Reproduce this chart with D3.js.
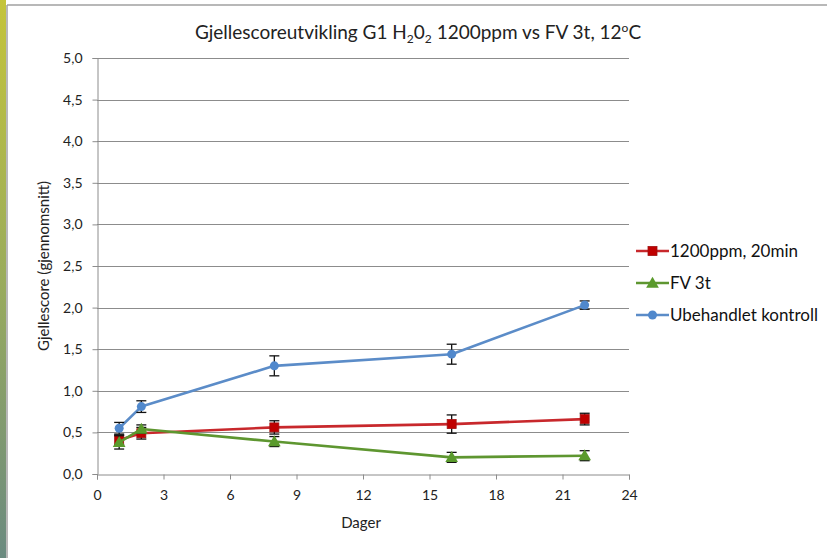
<!DOCTYPE html>
<html>
<head>
<meta charset="utf-8">
<script src="https://cdn.jsdelivr.net/npm/d3@7"></script>
<style>
  html, body { margin: 0; padding: 0; background: #fff; }
  svg { display: block; font-family: Lato, "Open Sans", sans-serif; }
</style>
</head>
<body>
<script>
// Gill score development chart (line + error bars)

const days = [1, 2, 8, 16, 22];
const seriesNames = ["1200ppm, 20min", "FV 3t", "Ubehandlet kontroll"];
const redValues = [0.41, 0.49, 0.56, 0.60, 0.66];
const redErrors = [0.06, 0.07, 0.08, 0.11, 0.07];
const greenValues = [0.38, 0.54, 0.39, 0.20, 0.22];
const greenErrors = [0.08, 0.05, 0.06, 0.06, 0.06];
const blueValues = [0.55, 0.81, 1.30, 1.44, 2.03];
const blueErrors = [0.07, 0.07, 0.12, 0.12, 0.05];
const yTicks = [0, 0.5, 1, 1.5, 2, 2.5, 3, 3.5, 4, 4.5, 5];
const xTicks = [0, 3, 6, 9, 12, 15, 18, 21, 24];

const width = 827;
const height = 558;

const x = d3.scaleLinear().domain([0, 24]).range([97, 629]);
const y = d3.scaleLinear().domain([0, 5]).range([474, 58]);

const series = [
  { name: seriesNames[0], values: redValues, errors: redErrors, line: "#c8282c", fill: "#c00000", shape: "square" },
  { name: seriesNames[1], values: greenValues, errors: greenErrors, line: "#5e9630", fill: "#5a9a2c", shape: "triangle" },
  { name: seriesNames[2], values: blueValues, errors: blueErrors, line: "#5b8cc8", fill: "#5088cc", shape: "circle" }
];

const svg = d3.select("body").append("svg")
  .attr("width", width)
  .attr("height", height);

// slide frame on the left
const grad = svg.append("defs").append("linearGradient")
  .attr("id", "strip").attr("x1", 0).attr("y1", 0).attr("x2", 0).attr("y2", 1);
grad.append("stop").attr("offset", "0%").attr("stop-color", "#c4c43a");
grad.append("stop").attr("offset", "50%").attr("stop-color", "#9aac5c");
grad.append("stop").attr("offset", "100%").attr("stop-color", "#6a8a80");
svg.append("rect").attr("x", 0).attr("y", 0).attr("width", 6).attr("height", height).attr("fill", "url(#strip)");
svg.append("line").attr("x1", 7).attr("x2", 7).attr("y1", 5).attr("y2", height).attr("stroke", "#a0a0a0").attr("stroke-width", 1.5);
svg.append("line").attr("x1", 7).attr("x2", width).attr("y1", 5).attr("y2", 5).attr("stroke", "#a0a0a0").attr("stroke-width", 1.5);

// title
const title = svg.append("text")
  .attr("x", 418).attr("y", 39)
  .attr("text-anchor", "middle")
  .style("font-size", "19px")
  .style("fill", "#222");
title.append("tspan").text("Gjellescoreutvikling G1 H");
title.append("tspan").attr("dy", 4).style("font-size", "12px").text("2");
title.append("tspan").attr("dy", -4).text("0");
title.append("tspan").attr("dy", 4).style("font-size", "12px").text("2");
title.append("tspan").attr("dy", -4).text(" 1200ppm vs FV 3t, 12");
title.append("tspan").attr("dy", -7).style("font-size", "12px").text("o");
title.append("tspan").attr("dy", 7).text("C");

// grid
svg.append("g").selectAll("line").data(yTicks.filter((d) => d > 0)).join("line")
  .attr("x1", x(0)).attr("x2", x(24))
  .attr("y1", (d) => Math.round(y(d)) + 0.5).attr("y2", (d) => Math.round(y(d)) + 0.5)
  .attr("stroke", "#8c8c8c").attr("stroke-width", 1);

// y axis
const yAxis = svg.append("g")
  .attr("transform", `translate(${x(0) + 0.5},0)`)
  .call(d3.axisLeft(y).tickValues(yTicks).tickSize(5).tickPadding(10)
    .tickFormat((d) => d3.format(".1f")(d).replace(".", ",")));
yAxis.select(".domain").attr("stroke", "#8c8c8c");
yAxis.selectAll(".tick line").attr("stroke", "#8c8c8c");
yAxis.selectAll("text").style("font-size", "14px").style("fill", "#222").style("font-family", "Lato, sans-serif");

// x axis
const xAxis = svg.append("g")
  .attr("transform", `translate(0,${y(0) + 0.5})`)
  .call(d3.axisBottom(x).tickValues(xTicks).tickSize(5).tickPadding(11));
xAxis.select(".domain").attr("stroke", "#8c8c8c");
xAxis.selectAll(".tick line").attr("stroke", "#8c8c8c");
xAxis.selectAll("text").style("font-size", "14px").style("fill", "#222").style("font-family", "Lato, sans-serif");

// axis titles
svg.append("text")
  .attr("x", 361).attr("y", 528)
  .attr("text-anchor", "middle")
  .style("font-size", "15px").style("fill", "#222")
  .text("Dager");
svg.append("text")
  .attr("transform", `translate(49,266) rotate(-90)`)
  .attr("text-anchor", "middle")
  .style("font-size", "15px").style("fill", "#222")
  .text("Gjellescore (gjennomsnitt)");

function drawMarker(g, shape, fill, cx, cy) {
  if (shape === "square") {
    g.append("rect").attr("x", cx - 4.5).attr("y", cy - 4.5).attr("width", 9).attr("height", 9)
      .attr("fill", fill).attr("stroke", "#a01010").attr("stroke-width", 0.8);
  } else if (shape === "triangle") {
    g.append("path").attr("d", d3.symbol(d3.symbolTriangle, 70)()).attr("transform", `translate(${cx},${cy + 1})`)
      .attr("fill", fill);
  } else {
    g.append("circle").attr("cx", cx).attr("cy", cy).attr("r", 4.5).attr("fill", fill);
  }
}

const line = d3.line().x((d) => x(d.day)).y((d) => y(d.value));

series.forEach((s) => {
  const pts = days.map((day, i) => ({ day, value: s.values[i], err: s.errors[i] }));
  const g = svg.append("g");
  g.append("path").datum(pts).attr("d", line)
    .attr("fill", "none").attr("stroke", s.line).attr("stroke-width", 2.6).attr("stroke-linejoin", "round");
  // error bars
  pts.forEach((p) => {
    const cx = x(p.day);
    const eg = g.append("g").attr("stroke", "#111").attr("stroke-width", 1.3);
    eg.append("line").attr("x1", cx).attr("x2", cx).attr("y1", y(p.value - p.err)).attr("y2", y(p.value + p.err));
    eg.append("line").attr("x1", cx - 5).attr("x2", cx + 5).attr("y1", y(p.value - p.err)).attr("y2", y(p.value - p.err));
    eg.append("line").attr("x1", cx - 5).attr("x2", cx + 5).attr("y1", y(p.value + p.err)).attr("y2", y(p.value + p.err));
  });
  pts.forEach((p) => drawMarker(g, s.shape, s.fill, x(p.day), y(p.value)));
});

// legend
const legendY = [251, 283, 315];
series.forEach((s, i) => {
  const g = svg.append("g");
  g.append("line").attr("x1", 636).attr("x2", 669).attr("y1", legendY[i]).attr("y2", legendY[i])
    .attr("stroke", s.line).attr("stroke-width", 2.4);
  drawMarker(g, s.shape, s.fill, 652.5, legendY[i]);
  g.append("text").attr("x", 670).attr("y", legendY[i]).attr("dy", "0.35em")
    .style("font-size", "17px").style("fill", "#111")
    .text(s.name);
});
</script>
</body>
</html>
